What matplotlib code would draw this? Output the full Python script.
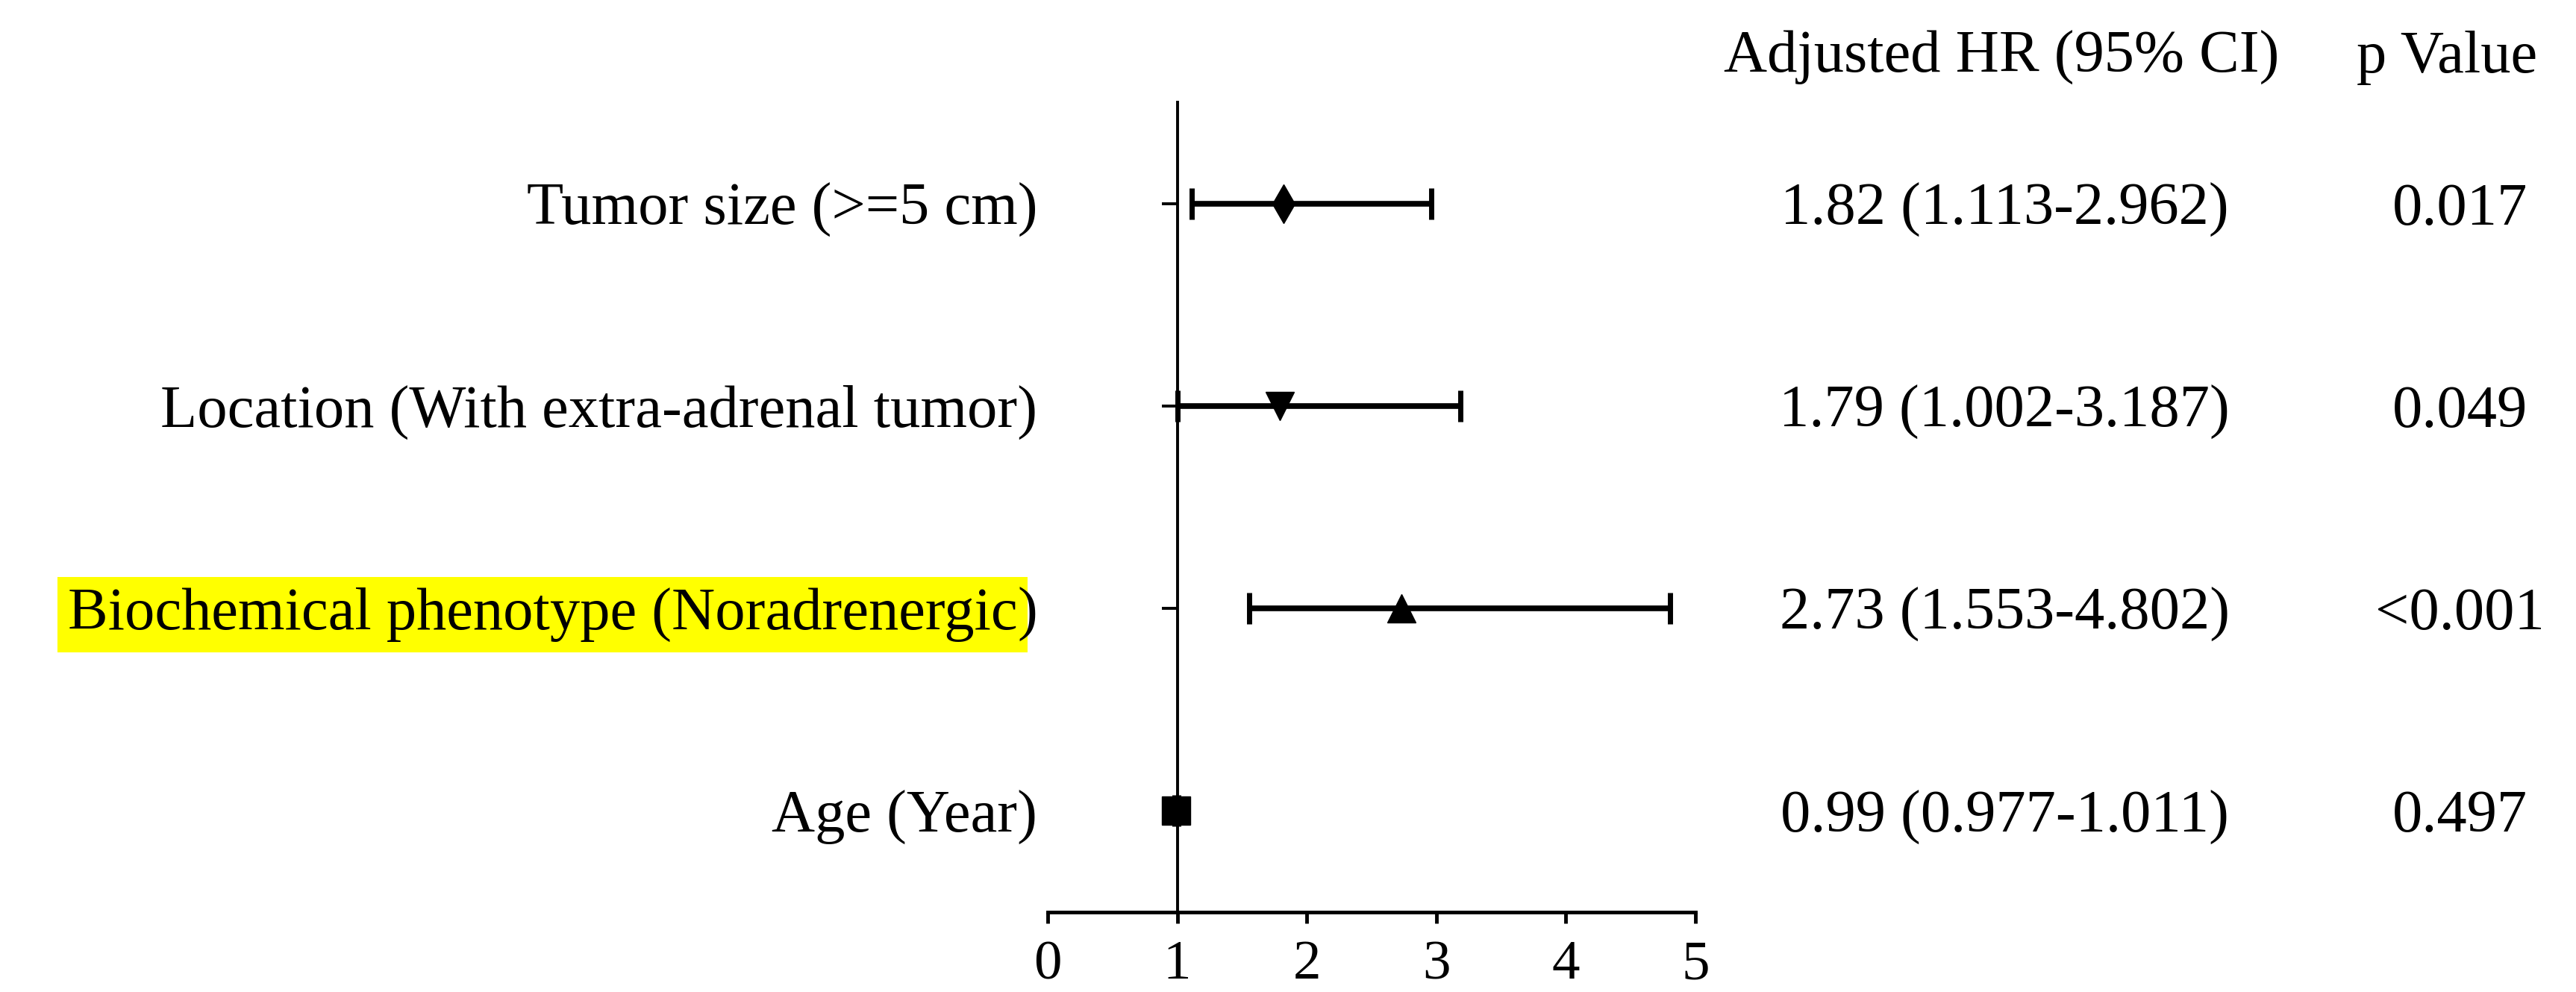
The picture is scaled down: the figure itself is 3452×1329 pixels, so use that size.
import matplotlib.pyplot as plt
import numpy as np

plt.rcParams['font.family'] = ['Liberation Serif', 'DejaVu Serif']

# data, top row first
labels = ['Tumor size (>=5 cm)', 'Location (With extra-adrenal tumor)',
          'Biochemical phenotype (Noradrenergic)', 'Age (Year)']
hr = [1.82, 1.79, 2.73, 0.99]
ci_low = [1.113, 1.002, 1.553, 0.977]
ci_high = [2.962, 3.187, 4.802, 1.011]
hr_text = ['1.82 (1.113-2.962)', '1.79 (1.002-3.187)',
           '2.73 (1.553-4.802)', '0.99 (0.977-1.011)']
p_text = ['0.017', '0.049', '<0.001', '0.497']
markers = ['d', 'v', '^', 's']
marker_sizes = [26, 28, 28, 27]
highlight = 'Biochemical phenotype (Noradrenergic)'

fig = plt.figure(figsize=(34.52, 13.29), dpi=100)
ax = fig.add_axes([0.4067, 0.0805, 0.2515, 0.8164])

n = len(labels)
ypos = np.arange(n)[::-1] + 0.5

for i in range(n):
    ax.errorbar(hr[i], ypos[i],
                xerr=[[hr[i] - ci_low[i]], [ci_high[i] - hr[i]]],
                fmt=markers[i], color='black', ms=marker_sizes[i],
                elinewidth=5.5, capsize=15, capthick=5, zorder=3)

ax.set_xlim(0, 5)
ax.set_ylim(0, n)
ax.set_xticks(range(6))
ax.set_yticks(ypos)
ax.set_yticklabels([])
ax.spines['top'].set_visible(False)
ax.spines['right'].set_visible(False)
ax.spines['left'].set_position(('data', 1))
ax.spines['left'].set_linewidth(2.8)
ax.spines['bottom'].set_linewidth(3.5)
ax.tick_params(axis='x', direction='out', length=11, width=3.5, labelsize=54, pad=16)
ax.tick_params(axis='y', direction='out', length=15, width=2.8)

fs = 58
# row labels on the left
for i in range(n):
    if labels[i] == highlight:
        # closing bracket sits outside the yellow marking
        t = ax.text(-0.08, ypos[i], ')', ha='right', va='center_baseline',
                    fontsize=fs, clip_on=False, zorder=5)
        ax.annotate(labels[i][:-1], xy=(0, 0), xycoords=t,
                    ha='right', va='bottom', fontsize=fs, zorder=4,
                    bbox=dict(boxstyle='square,pad=0.17', fc='#ffff00', ec='none'))
    else:
        ax.text(-0.08, ypos[i], labels[i], ha='right', va='center_baseline',
                fontsize=fs, clip_on=False)

# table columns on the right
ax.text(7.36, 4.25, 'Adjusted HR (95% CI)', ha='center', va='center_baseline',
        fontsize=fs, clip_on=False)
ax.text(10.8, 4.25, 'p Value', ha='center', va='center_baseline',
        fontsize=fs, clip_on=False)
for i in range(n):
    ax.text(7.385, ypos[i], hr_text[i], ha='center', va='center_baseline',
            fontsize=fs, clip_on=False)
    ax.text(10.9, ypos[i], p_text[i], ha='center', va='center_baseline',
            fontsize=fs, clip_on=False)

plt.savefig('out.png', dpi=100)
